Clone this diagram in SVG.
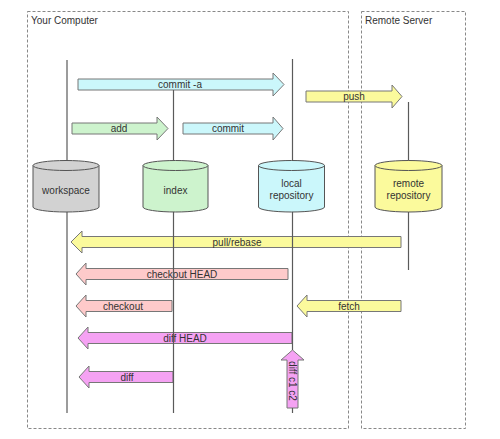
<svg xmlns="http://www.w3.org/2000/svg" width="500" height="439" viewBox="0 0 500 439">
<style>
text{font-family:"Liberation Sans",Arial,sans-serif;font-size:10px;fill:#333;}
.t{text-anchor:middle;}
.box{fill:none;stroke:#888;stroke-width:1;stroke-dasharray:3,2;}
.life{stroke:#5a5a5a;stroke-width:1.2;fill:none;}
.arr{stroke:#777;stroke-width:1;}
.cyl{stroke:#555;stroke-width:1;}
.cyan{fill:#cbf7fb;}
.green{fill:#cdf3cd;}
.yellow{fill:#fbfa9c;}
.pink{fill:#fecaca;}
.mag{fill:#f5a2f3;}
.gray{fill:#d2d2d2;}
</style>
<rect width="500" height="439" fill="#fff"/>
<g id="boundaries">
<rect class="box" x="27.5" y="11.5" width="321" height="417"/>
<rect class="box" x="361.5" y="11.5" width="104" height="417"/>
<text x="31" y="24">Your Computer</text>
<text x="365" y="24">Remote Server</text>
</g>
<g id="connectors">
<g id="arrow-commit-a"><path class="arr cyan" d="M78,79 H273 V73 L284,84.5 L273,96 V90 H78 Z"/><text class="t" x="180" y="88">commit -a</text></g>
<g id="arrow-add"><path class="arr green" d="M72,123 H157 V117 L168,128.5 L157,140 V134 H72 Z"/><text class="t" x="119" y="132">add</text></g>
<g id="arrow-commit"><path class="arr cyan" d="M183,123 H273 V117 L283,128.5 L273,140 V134 H183 Z"/><text class="t" x="228" y="132">commit</text></g>
<g id="arrow-push"><path class="arr yellow" d="M306,91 H392 V85 L402,96.5 L392,108 V102 H306 Z"/><text class="t" x="354" y="100">push</text></g>
<g id="arrow-pull"><path class="arr yellow" d="M401,236.5 H82 V231 L71,242 L82,253 V247.5 H401 Z"/><text class="t" x="237" y="245.5">pull/rebase</text></g>
<g id="arrow-checkout-head"><path class="arr pink" d="M288,268.5 H86 V263 L76,274 L86,285 V279.5 H288 Z"/><text class="t" x="182" y="277.5">checkout HEAD</text></g>
<g id="arrow-checkout"><path class="arr pink" d="M172,300.5 H86 V295 L76,306 L86,317 V311.5 H172 Z"/><text class="t" x="123" y="309.5">checkout</text></g>
<g id="arrow-fetch"><path class="arr yellow" d="M401,300.5 H307 V295 L297,306 L307,317 V311.5 H401 Z"/><text class="t" x="349" y="309.5">fetch</text></g>
<g id="arrow-diff-head"><path class="arr mag" d="M292,332.5 H88 V327 L78,338 L88,349 V343.5 H292 Z"/><text class="t" x="185" y="341.5">diff HEAD</text></g>
<g id="arrow-diff"><path class="arr mag" d="M173,371.5 H89 V366 L79,377 L89,388 V382.5 H173 Z"/><text class="t" x="127" y="380.5">diff</text></g>
<g id="arrow-diff-c1-c2"><path class="arr mag" d="M287,408 V360 H281 L292.5,350 L304,360 H298 V408 Z"/><text class="t" transform="rotate(90 292.5 381)" x="292.5" y="384.5">diff c1 c2</text></g>
<g id="lifelines">
<line class="life" x1="67" y1="60" x2="67" y2="413"/>
<line class="life" x1="173.5" y1="90" x2="173.5" y2="413"/>
<line class="life" x1="292.5" y1="59" x2="292.5" y2="350"/>
<line class="life" x1="292.5" y1="408" x2="292.5" y2="413"/>
<line class="life" x1="408.5" y1="102" x2="408.5" y2="270"/>
</g>
</g>
<g id="workspace">
<path class="cyl gray" d="M33,165.5 V207 A33,5 0 0 0 99,207 V165.5 Z"/>
<ellipse class="cyl gray" cx="66" cy="165.5" rx="33" ry="5"/>
<text class="t" x="66" y="193.5">workspace</text>
</g>
<g id="index">
<path class="cyl green" d="M143,165.5 V207 A32.5,5 0 0 0 208,207 V165.5 Z"/>
<ellipse class="cyl green" cx="175.5" cy="165.5" rx="32.5" ry="5"/>
<text class="t" x="175.5" y="193.5">index</text>
</g>
<g id="local-repository">
<path class="cyl cyan" d="M258.5,165.5 V207 A33,5 0 0 0 324.5,207 V165.5 Z"/>
<ellipse class="cyl cyan" cx="291.5" cy="165.5" rx="33" ry="5"/>
<text class="t" x="291.5" y="186.5">local</text>
<text class="t" x="291.5" y="198.5">repository</text>
</g>
<g id="remote-repository">
<path class="cyl yellow" d="M375,165.5 V207 A33.5,5 0 0 0 442,207 V165.5 Z"/>
<ellipse class="cyl yellow" cx="408.5" cy="165.5" rx="33.5" ry="5"/>
<text class="t" x="408.5" y="186.5">remote</text>
<text class="t" x="408.5" y="198.5">repository</text>
</g>
</svg>
